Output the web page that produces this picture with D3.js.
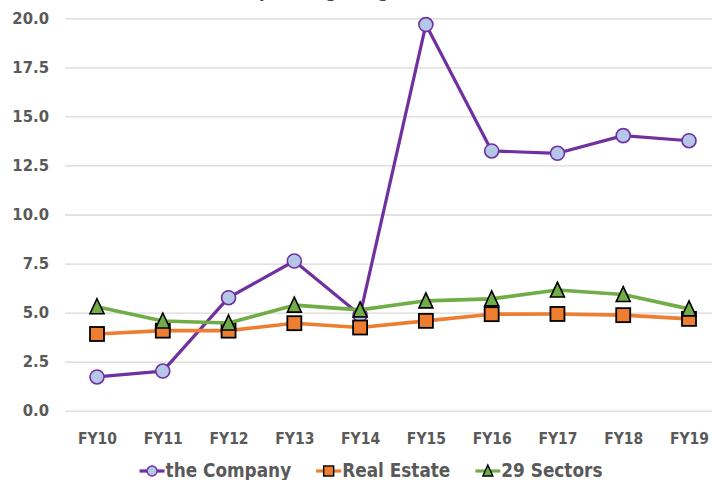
<!DOCTYPE html>
<html>
<head>
<meta charset="utf-8">
<script src="https://cdn.jsdelivr.net/npm/d3@7"></script>
<style>
  html, body { margin: 0; padding: 0; background: #fff; }
  svg { display: block; }
  text { font-family: "DejaVu Sans Condensed", "DejaVu Sans", sans-serif; font-stretch: condensed; font-weight: bold; fill: #595959; }
</style>
</head>
<body>
<svg id="chart" width="712" height="480"></svg>
<script>
// Fiscal years on the x axis
const years = ["FY10", "FY11", "FY12", "FY13", "FY14", "FY15", "FY16", "FY17", "FY18", "FY19"];
// Series values (%)
const company    = [1.72, 2.02, 5.76, 7.63, 4.88, 19.68, 13.24, 13.12, 14.02, 13.76];
const realEstate = [3.91, 4.08, 4.08, 4.46, 4.24, 4.58, 4.92, 4.93, 4.87, 4.68];
const sectors    = [5.30, 4.57, 4.47, 5.38, 5.14, 5.60, 5.70, 6.15, 5.92, 5.19];
// Y axis tick labels
const yTicks = [0, 2.5, 5, 7.5, 10, 12.5, 15, 17.5, 20];
const seriesNames = ["the Company", "Real Estate", "29 Sectors"];

const svg = d3.select("#chart");
const plot = { left: 65, right: 722, top: 18.3, bottom: 410.7 };

const x = d3.scalePoint().domain(years).range([97, 689]);
const y = d3.scaleLinear().domain([0, 20]).range([plot.bottom, plot.top]);

// Chart title (sits mostly above the top edge)
svg.append("text")
  .attr("x", 443).attr("y", -3)
  .attr("text-anchor", "end")
  .style("font-size", "18px")
  .style("fill", "#404040")
  .text("Operating Margin (%)");

// Gridlines + y labels
const yAxis = d3.axisLeft(y)
  .tickValues(yTicks)
  .tickFormat(d3.format(".1f"))
  .tickSize(-(plot.right - plot.left))
  .tickPadding(16);
const gy = svg.append("g").attr("transform", `translate(${plot.left},0)`).call(yAxis);
gy.select(".domain").remove();
gy.selectAll(".tick line").attr("stroke", "#d9d9d9").attr("stroke-width", 1.3);
gy.selectAll(".tick text").style("font-size", "16.5px").attr("fill", "#595959");

// X labels
const xAxis = d3.axisBottom(x).tickSize(0).tickPadding(22);
const gx = svg.append("g").attr("transform", `translate(0,${plot.bottom})`).call(xAxis);
gx.select(".domain").remove();
gx.selectAll(".tick text").style("font-size", "15.5px").attr("fill", "#595959");

const styles = [
  { data: company,    line: "#7030a0", lw: 3.2, shape: "circle",   fill: "#b4c7e7", stroke: "#7030a0", sw: 1.6 },
  { data: realEstate, line: "#ed7d31", lw: 3.6, shape: "square",   fill: "#ed7d31", stroke: "#000000", sw: 1.8 },
  { data: sectors,    line: "#70ad47", lw: 3.6, shape: "triangle", fill: "#70ad47", stroke: "#000000", sw: 1.6 }
];

function drawMarker(g, shape, size, s) {
  if (shape === "circle") {
    g.append("circle").attr("r", size / 2)
      .attr("fill", s.fill).attr("stroke", s.stroke).attr("stroke-width", s.sw);
  } else if (shape === "square") {
    g.append("rect").attr("x", -size / 2).attr("y", -size / 2)
      .attr("width", size).attr("height", size)
      .attr("fill", s.fill).attr("stroke", s.stroke).attr("stroke-width", s.sw);
  } else {
    const h = size / 2;
    g.append("path").attr("d", `M0,${-h - 1}L${h},${h}L${-h},${h}Z`)
      .attr("fill", s.fill).attr("stroke", s.stroke).attr("stroke-width", s.sw)
      .attr("stroke-linejoin", "miter");
  }
}

const line = d3.line().x((d, i) => x(years[i])).y(d => y(d));

styles.forEach(s => {
  const g = svg.append("g");
  g.append("path").datum(s.data)
    .attr("d", line)
    .attr("fill", "none")
    .attr("stroke", s.line)
    .attr("stroke-width", s.lw)
    .attr("stroke-linejoin", "round");
  s.data.forEach((v, i) => {
    const m = g.append("g").attr("transform", `translate(${x(years[i])},${y(v)})`);
    drawMarker(m, s.shape, 14, s);
  });
});

// Legend
const legend = svg.append("g");
let cx = 0;
styles.forEach((s, i) => {
  const it = legend.append("g").attr("transform", `translate(${cx},0)`);
  it.append("line").attr("x1", 0).attr("x2", 25).attr("y1", -6).attr("y2", -6)
    .attr("stroke", s.line).attr("stroke-width", 3.2);
  const m = it.append("g").attr("transform", "translate(12.5,-6)");
  drawMarker(m, s.shape, 10, Object.assign({}, s, { sw: 1.4 }));
  const t = it.append("text").attr("x", 26).attr("y", 0)
    .style("font-size", "18.8px").text(seriesNames[i]);
  const w = 26 + t.node().getComputedTextLength();
  cx += w + 25;
});
const total = cx - 25;
legend.attr("transform", `translate(${371 - total / 2},477)`);
</script>
</body>
</html>
